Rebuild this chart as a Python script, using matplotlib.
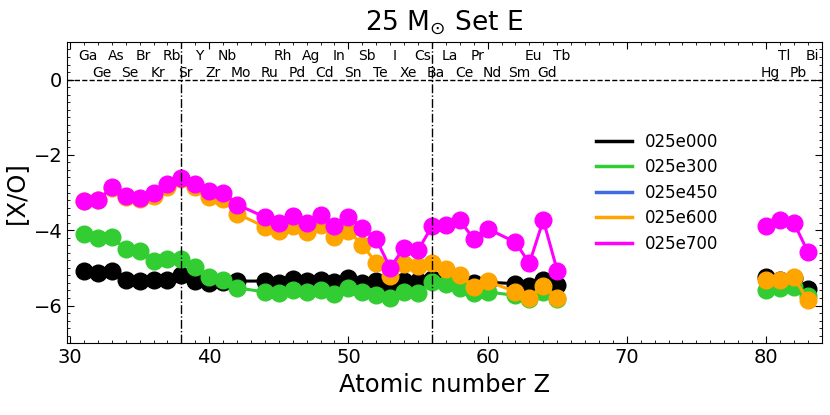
import matplotlib
matplotlib.use('Agg')
import matplotlib.pyplot as plt
import numpy as np
from matplotlib.ticker import MultipleLocator

# atomic numbers shown on the plot (Tc, Pm and 66-79 left out)
Z = [31, 32, 33, 34, 35, 36, 37, 38, 39, 40, 41, 42,
     44, 45, 46, 47, 48, 49, 50, 51, 52, 53, 54, 55,
     56, 57, 58, 59, 60, 62, 63, 64, 65,
     80, 81, 82, 83]
elements = ['Ga', 'Ge', 'As', 'Se', 'Br', 'Kr', 'Rb', 'Sr', 'Y', 'Zr', 'Nb', 'Mo',
            'Ru', 'Rh', 'Pd', 'Ag', 'Cd', 'In', 'Sn', 'Sb', 'Te', 'I', 'Xe', 'Cs',
            'Ba', 'La', 'Ce', 'Pr', 'Nd', 'Sm', 'Eu', 'Gd', 'Tb',
            'Hg', 'Tl', 'Pb', 'Bi']

# [X/O] per model, NaN = gap in the line
e000 = [-5.09, -5.14, -5.09, -5.32, -5.35, -5.33, -5.33, -5.18, -5.35, -5.39, -5.37, -5.35,
        -5.35, -5.40, -5.29, -5.35, -5.32, -5.38, -5.26, -5.40, -5.35, -5.46, -5.35, -5.35,
        -5.29, -5.34, -5.36, -5.39, -5.38, -5.42, -5.48, -5.33, -5.45,
        np.nan, -5.25, -5.31, -5.28, -5.57]
e300 = [-4.09, -4.21, -4.19, -4.50, -4.56, -4.81, -4.76, -4.76, -4.98, -5.25, -5.32, -5.53,
        -5.64, -5.68, -5.60, -5.64, -5.58, -5.70, -5.53, -5.64, -5.73, -5.79, -5.64, -5.67,
        -5.38, -5.42, -5.53, -5.68, -5.64, -5.73, -5.82, -5.64, -5.83,
        np.nan, -5.60, -5.53, -5.51, -5.75]
e450 = []
e600 = [-3.22, -3.21, -2.88, -3.12, -3.16, -3.10, -2.86, -2.63, -2.86, -3.12, -3.18, -3.56,
        -3.91, -4.02, -3.89, -4.04, -3.86, -4.19, -4.02, -4.39, -4.87, -5.22, -4.90, -4.96,
        -4.86, -5.03, -5.18, -5.50, -5.36, -5.63, -5.80, -5.48, -5.80,
        np.nan, -5.33, -5.31, -5.25, -5.86]
e700 = [-3.23, -3.21, -2.86, -3.10, -3.14, -3.01, -2.77, -2.61, -2.77, -2.95, -3.01, -3.32,
        -3.65, -3.80, -3.62, -3.80, -3.60, -3.89, -3.65, -3.93, -4.24, -5.00, -4.46, -4.53,
        -3.90, -3.87, -3.73, -4.24, -3.96, -4.32, -4.88, -3.73, -5.07,
        np.nan, -3.90, -3.73, -3.80, -4.57]

models = ['025e000', '025e300', '025e450', '025e600', '025e700']
colors = ['black', 'limegreen', 'royalblue', 'orange', 'magenta']

# insert a NaN between Tb and Hg so the lines break there
Zp = Z[:33] + [66] + Z[33:]

plt.figure(figsize=[8.3, 4.15], dpi=100)
ax = plt.gca()
for name, vals, c in zip(models, [e000, e300, e450, e600, e700], colors):
    if len(vals) == 0:
        ax.plot([], [], '-o', color=c, lw=2.2, ms=12, label=name)
        continue
    ax.plot(Zp, vals, '-o', color=c, lw=2.2, ms=12, label=name)

ax.axhline(0, color='black', ls='--', lw=1)
for zl in [38, 56]:
    ax.axvline(zl, color='black', ls='-.', lw=1)

for z, el in zip(Z, elements):
    yl = 0.63 if z % 2 == 1 else 0.18
    ax.text(z + 0.3, yl, el, ha='center', va='center', fontsize=10)

ax.set_xlim(29.8, 84.0)
ax.set_ylim(-7, 1)
ax.xaxis.set_major_locator(MultipleLocator(10))
ax.xaxis.set_minor_locator(MultipleLocator(1))
ax.yaxis.set_major_locator(MultipleLocator(2))
ax.yaxis.set_minor_locator(MultipleLocator(0.2))
ax.tick_params(which='both', direction='in', top=True, right=True, labelsize=14)
ax.tick_params(which='major', length=5)
ax.tick_params(which='minor', length=2.5)

ax.set_xlabel('Atomic number Z', fontsize=17.5)
ax.set_ylabel('[X/O]', fontsize=17.5)
ax.set_title(r'25 M$_{\odot}$ Set E', fontsize=19, pad=8)
leg = ax.legend(loc='center left', bbox_to_anchor=(0.681, 0.5), frameon=False,
                fontsize=12, handlelength=2.15, labelspacing=0.45)
for ln in leg.get_lines():
    ln.set_marker('')
    ln.set_linewidth(2.5)

plt.subplots_adjust(left=0.081, right=0.99, top=0.899, bottom=0.173)
plt.savefig('out.png', dpi=100)
